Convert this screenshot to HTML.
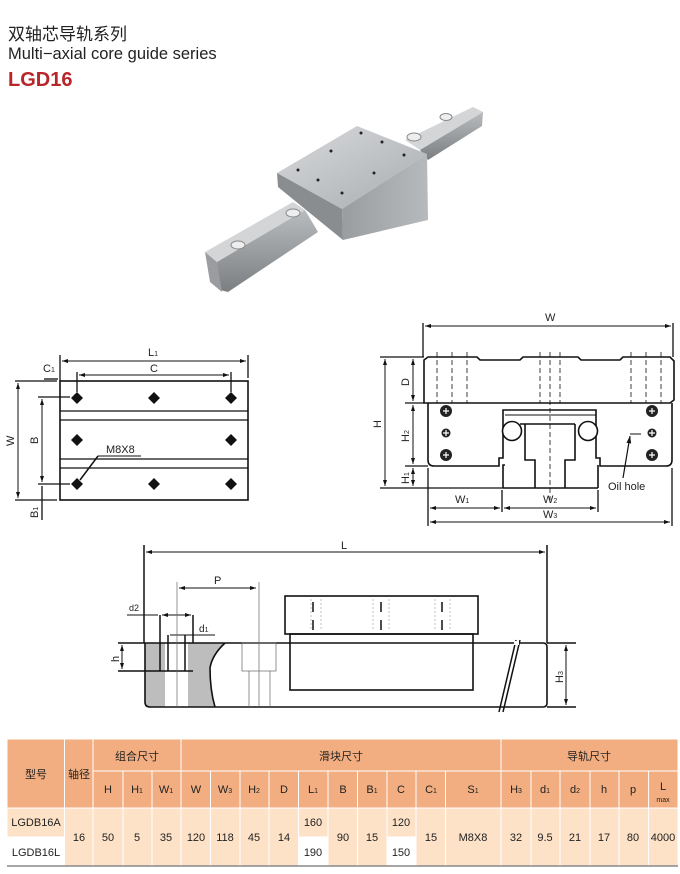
<!DOCTYPE html>
<html><head><meta charset="utf-8"><style>
html,body{margin:0;padding:0;background:#fff;}
svg{display:block;}
text{font-family:"Liberation Sans","Noto Sans CJK SC",sans-serif;fill:#222;}
.t{font-size:11px;}
</style></head><body>
<svg width="680" height="874" viewBox="0 0 680 874" xmlns="http://www.w3.org/2000/svg">
<defs>
<marker id="a" markerWidth="6" markerHeight="6" refX="6" refY="3" orient="auto-start-reverse"><path d="M0,1 L6,3 L0,5 Z" fill="#111"/></marker>
<linearGradient id="g1" x1="0" y1="0" x2="1" y2="1"><stop offset="0" stop-color="#d8dadc"/><stop offset="1" stop-color="#a9acaf"/></linearGradient>
<linearGradient id="g2" x1="0" y1="0" x2="0" y2="1"><stop offset="0" stop-color="#b9bcbf"/><stop offset="1" stop-color="#7c7f82"/></linearGradient>
<linearGradient id="g3" x1="0" y1="0" x2="1" y2="0"><stop offset="0" stop-color="#9a9da0"/><stop offset="1" stop-color="#b7babd"/></linearGradient>
</defs>
<!-- header -->
<text x="8" y="40" style="font-size:17px">双轴芯导轨系列</text>
<text x="8" y="59" style="font-size:16.5px">Multi−axial core guide series</text>
<text x="8" y="86" style="font-size:20px;font-weight:bold;fill:#b8262a">LGD16</text>

<!-- photo -->
<g stroke="none">
<polygon points="205,252 293,202 305,210 217,262" fill="#d3d5d7"/>
<polygon points="217,262 305,210 318,232 228,292 220,290" fill="url(#g2)"/>
<polygon points="205,252 217,262 222,292 210,282" fill="#9a9c9f"/>
<polygon points="405,140 473,107 483,112 420,150" fill="#d3d5d7"/>
<polygon points="420,150 483,112 482,126 428,160" fill="url(#g2)"/>
<polygon points="277,173 357,126 427,154 342,209" fill="url(#g1)"/>
<polygon points="342,209 427,154 428,220 343,240" fill="url(#g3)"/>
<polygon points="277,173 342,209 343,240 278,187" fill="#8a8d90"/>
<ellipse cx="238" cy="245" rx="7" ry="4" fill="#eee" stroke="#888"/>
<ellipse cx="293" cy="213" rx="7" ry="4" fill="#eee" stroke="#888"/>
<ellipse cx="414" cy="137" rx="7" ry="4" fill="#eee" stroke="#888"/>
<ellipse cx="446" cy="117" rx="6" ry="3.5" fill="#eee" stroke="#888"/>
<g fill="#222"><circle cx="298" cy="170" r="1.5"/><circle cx="331" cy="151" r="1.5"/><circle cx="361" cy="133" r="1.5"/><circle cx="318" cy="180" r="1.5"/><circle cx="382" cy="142" r="1.5"/><circle cx="342" cy="193" r="1.5"/><circle cx="374" cy="173" r="1.5"/><circle cx="404" cy="155" r="1.5"/></g>
</g>

<g fill="none" stroke="#111" stroke-width="1.3">
<!-- top view -->
<rect x="60" y="381" width="188" height="119" stroke-width="1.6"/>
<line x1="60" y1="411" x2="248" y2="411"/><line x1="60" y1="420" x2="248" y2="420"/>
<line x1="60" y1="459" x2="248" y2="459"/><line x1="60" y1="468" x2="248" y2="468"/>
<line x1="60" y1="355" x2="60" y2="381"/><line x1="248" y1="355" x2="248" y2="378"/>
<line x1="62" y1="361" x2="246" y2="361" marker-start="url(#a)" marker-end="url(#a)" stroke-width="1"/>
<line x1="77" y1="372" x2="77" y2="392"/><line x1="231" y1="372" x2="231" y2="392"/>
<line x1="79" y1="375" x2="229" y2="375" marker-start="url(#a)" marker-end="url(#a)" stroke-width="1"/>
<line x1="44" y1="379" x2="58" y2="379"/>
<line x1="15" y1="381" x2="57" y2="381"/><line x1="15" y1="500" x2="57" y2="500"/>
<line x1="18" y1="383" x2="18" y2="498" marker-start="url(#a)" marker-end="url(#a)" stroke-width="1"/>
<line x1="38" y1="397" x2="70" y2="397"/><line x1="38" y1="484" x2="70" y2="484"/>
<line x1="42" y1="399" x2="42" y2="482" marker-start="url(#a)" marker-end="url(#a)" stroke-width="1"/>
<line x1="42" y1="486" x2="42" y2="520"/>
<line x1="98" y1="456" x2="141" y2="456" stroke-width="1"/><line x1="98" y1="456" x2="80" y2="480" stroke-width="1.5"/>
</g>
<g fill="#111">
<path d="M77,392 l6,6 -6,6 -6,-6z"/><path d="M154,392 l6,6 -6,6 -6,-6z"/><path d="M231,392 l6,6 -6,6 -6,-6z"/>
<path d="M77,434 l6,6 -6,6 -6,-6z"/><path d="M231,434 l6,6 -6,6 -6,-6z"/>
<path d="M77,478 l6,6 -6,6 -6,-6z"/><path d="M154,478 l6,6 -6,6 -6,-6z"/><path d="M231,478 l6,6 -6,6 -6,-6z"/>
</g>
<text class="t" x="148" y="356">L<tspan style="font-size:7px">1</tspan></text>
<text class="t" x="150" y="372">C</text>
<text class="t" x="43" y="372">C<tspan style="font-size:7px">1</tspan></text>
<text class="t" x="106" y="453">M8X8</text>
<text class="t" transform="translate(14,446) rotate(-90)">W</text>
<text class="t" transform="translate(38,444) rotate(-90)">B</text>
<text class="t" transform="translate(38,518) rotate(-90)">B<tspan style="font-size:7px">1</tspan></text>

<!-- front view -->
<g fill="none" stroke="#111" stroke-width="1.3">
<line x1="423" y1="323" x2="423" y2="357"/><line x1="673" y1="323" x2="673" y2="357"/>
<line x1="425" y1="326" x2="671" y2="326" marker-start="url(#a)" marker-end="url(#a)" stroke-width="1"/>
<path d="M424,403 L424,360 L428,357 L477,357 L480,360 L520,360 L523,357 L578,357 L581,360 L620,360 L623,357 L670,357 L674,361 L674,400 L670,403 Z" stroke-width="1.6"/>
<path d="M428,403 L428,460 Q428,466 434,466 L499,466 L499,458 L503,458 L503,410 L596,410 L596,458 L600,458 L600,466 L666,466 Q672,466 672,460 L672,403" stroke-width="1.6"/>
<path d="M503,488 L503,465 L505,465 M598,488 L598,465" stroke-width="1.6"/>
<path d="M503,488 L598,488" stroke-width="1.6"/>
<path d="M520,424 L575,424 M525,424 L525,460 L535,460 L535,488 M575,424 L575,460 L565,460 L565,488" stroke-width="1.6"/>
<line x1="505" y1="415" x2="596" y2="415" stroke-width="1"/>
<circle cx="512" cy="431" r="9.5" fill="#fff" stroke-width="1.6"/>
<circle cx="588" cy="431" r="9.5" fill="#fff" stroke-width="1.6"/>
<g stroke-dasharray="5,3" stroke-width="0.8">
<line x1="437" y1="352" x2="437" y2="403"/><line x1="452" y1="352" x2="452" y2="403"/><line x1="467" y1="352" x2="467" y2="403"/>
<line x1="540" y1="352" x2="540" y2="403"/><line x1="550" y1="352" x2="550" y2="500"/><line x1="560" y1="352" x2="560" y2="403"/>
<line x1="631" y1="352" x2="631" y2="403"/><line x1="646" y1="352" x2="646" y2="403"/><line x1="661" y1="352" x2="661" y2="403"/>
</g>
<line x1="380" y1="357" x2="424" y2="357"/><line x1="380" y1="488" x2="503" y2="488"/>
<line x1="405" y1="403" x2="424" y2="403"/><line x1="405" y1="466" x2="428" y2="466"/>
<line x1="385" y1="359" x2="385" y2="486" marker-start="url(#a)" marker-end="url(#a)" stroke-width="1"/>
<line x1="413" y1="359" x2="413" y2="401" marker-start="url(#a)" marker-end="url(#a)" stroke-width="1"/>
<line x1="413" y1="405" x2="413" y2="464" marker-start="url(#a)" marker-end="url(#a)" stroke-width="1"/>
<line x1="413" y1="468" x2="413" y2="486" marker-start="url(#a)" marker-end="url(#a)" stroke-width="1"/>
<line x1="428" y1="468" x2="428" y2="526"/><line x1="672" y1="468" x2="672" y2="526"/>
<line x1="502" y1="490" x2="502" y2="512"/><line x1="598" y1="490" x2="598" y2="512"/>
<line x1="430" y1="508" x2="500" y2="508" marker-start="url(#a)" marker-end="url(#a)" stroke-width="1"/>
<line x1="504" y1="508" x2="596" y2="508" marker-start="url(#a)" marker-end="url(#a)" stroke-width="1"/>
<line x1="430" y1="522" x2="670" y2="522" marker-start="url(#a)" marker-end="url(#a)" stroke-width="1"/>
<path d="M623,478 L630,436" stroke-width="1.2" marker-end="url(#a)"/><line x1="630" y1="434" x2="641" y2="434" stroke-width="1"/>
</g>
<g fill="#222"><circle cx="446" cy="411" r="6"/><circle cx="446" cy="433" r="4.5"/><circle cx="446" cy="455" r="6"/>
<circle cx="652" cy="411" r="6"/><circle cx="652" cy="433" r="4.5"/><circle cx="652" cy="455" r="6"/></g>
<g stroke="#fff" stroke-width="1.2"><path d="M443,411h6M446,408v6M443,433h6M446,430v6M443,455h6M446,452v6M649,411h6M652,408v6M649,433h6M652,430v6M649,455h6M652,452v6"/></g>
<text class="t" x="545" y="321">W</text>
<text class="t" x="608" y="490">Oil hole</text>
<text class="t" x="455" y="503">W<tspan style="font-size:7px">1</tspan></text>
<text class="t" x="543" y="503">W<tspan style="font-size:7px">2</tspan></text>
<text class="t" x="543" y="518">W<tspan style="font-size:7px">3</tspan></text>
<text class="t" transform="translate(381,428) rotate(-90)">H</text>
<text class="t" transform="translate(409,386) rotate(-90)">D</text>
<text class="t" transform="translate(409,442) rotate(-90)">H<tspan style="font-size:7px">2</tspan></text>
<text class="t" transform="translate(409,484) rotate(-90)">H<tspan style="font-size:7px">1</tspan></text>

<!-- side view -->
<path d="M145,643 L225,643 Q212,655 210,668 Q210,690 215,707 L150,707 Q145,707 145,702 Z" fill="#bdbdbd"/>
<rect x="165" y="643" width="23" height="64" fill="#fff"/>
<g fill="none" stroke="#111" stroke-width="1.5">
<path d="M145,643 L543,643 Q547,643 547,647 L547,703 Q547,707 543,707 L150,707 Q145,707 145,702 Z" stroke-width="1.6"/>
<path d="M225,643 Q212,655 210,668 Q210,690 215,707" stroke-width="1.6"/>
<rect x="285" y="596" width="193" height="38" stroke-width="1.6"/>
<rect x="290" y="634" width="183" height="56" stroke-width="1.6"/>
<path d="M313,602v10M313,620v10M381,602v10M381,620v10M442,602v10M442,620v10"/>
<path d="M516,640 L499,712 M520,640 L503,712" stroke="#111"/>
<path d="M160,615 L160,671 M193,615 L193,643 M168,635 L168,671 M185,635 L185,671 M160,671 L193,671"/>
<line x1="144" y1="545" x2="144" y2="643"/><line x1="547" y1="545" x2="547" y2="643"/>
<line x1="146" y1="552" x2="545" y2="552" marker-start="url(#a)" marker-end="url(#a)" stroke-width="1"/>
<line x1="127" y1="615" x2="158" y2="615" stroke-width="1"/>
<line x1="162" y1="615" x2="191" y2="615" marker-start="url(#a)" marker-end="url(#a)" stroke-width="1"/>
<line x1="170" y1="635" x2="215" y2="635" stroke-width="1"/>
<line x1="118" y1="643" x2="145" y2="643"/><line x1="118" y1="671" x2="160" y2="671"/>
<line x1="122" y1="645" x2="122" y2="669" marker-start="url(#a)" marker-end="url(#a)" stroke-width="1"/>
<line x1="547" y1="643" x2="576" y2="643"/><line x1="547" y1="707" x2="576" y2="707"/>
<line x1="566" y1="645" x2="566" y2="705" marker-start="url(#a)" marker-end="url(#a)" stroke-width="1"/>
<line x1="179" y1="588" x2="256" y2="588" marker-start="url(#a)" marker-end="url(#a)" stroke-width="1"/>
</g>
<g fill="none" stroke="#666" stroke-width="0.7">
<line x1="177" y1="582" x2="177" y2="707"/><line x1="259" y1="582" x2="259" y2="707"/>
<rect x="242" y="643" width="34" height="28"/><path d="M249,671v36M270,671v36"/>
<path d="M311,599v32M321,599v32M373,599v32M389,599v32M435,599v32M450,599v32" stroke-dasharray="2,2" stroke="#aaa"/>
</g>
<rect x="514" y="641" width="5" height="4" fill="#fff"/>
<text class="t" x="341" y="549">L</text>
<text class="t" x="214" y="584">P</text>
<text x="129" y="611" style="font-size:9px">d2</text>
<text x="199" y="632" style="font-size:10px">d<tspan style="font-size:7px">1</tspan></text>
<text class="t" transform="translate(119,662) rotate(-90)">h</text>
<text class="t" transform="translate(563,683) rotate(-90)">H<tspan style="font-size:7px">3</tspan></text>

<!-- table -->
<g stroke="#fff" stroke-width="1">
<rect x="7" y="739" width="671" height="69" fill="#f2ae80"/>
<rect x="7" y="808" width="671" height="58" fill="#fde2c8"/>
<rect x="7" y="837" width="57" height="29" fill="#fff"/>
<rect x="298.5" y="837" width="29.5" height="29" fill="#fff"/>
<rect x="387" y="837" width="29" height="29" fill="#fff"/>
<path d="M64.5,739V866M93,739V866M93,771H678M123,771V866M152,771V866M181,739V866M210.5,771V866M240,771V866M269,771V866M298.5,771V866M328,771V866M357.5,771V866M387,771V866M416,771V866M445.5,771V866M501,739V866M531,771V866M560,771V866M590,771V866M619,771V866M648.6,771V866M7,808H678M7,837H64.5M298.5,837H328M387,837H416"/>
</g>
<line x1="7" y1="866" x2="678" y2="866" stroke="#888" stroke-width="1.5"/>
<g style="font-size:11px" text-anchor="middle">
<text x="36" y="778">型号</text><text x="79" y="778">轴径</text>
<text x="137" y="760">组合尺寸</text><text x="341" y="760">滑块尺寸</text><text x="589" y="760">导轨尺寸</text>
<text x="108" y="793">H</text><text x="137" y="793">H<tspan style="font-size:7px">1</tspan></text><text x="166" y="793">W<tspan style="font-size:7px">1</tspan></text>
<text x="196" y="793">W</text><text x="225" y="793">W<tspan style="font-size:7px">3</tspan></text><text x="254" y="793">H<tspan style="font-size:7px">2</tspan></text><text x="284" y="793">D</text>
<text x="313" y="793">L<tspan style="font-size:7px">1</tspan></text><text x="343" y="793">B</text><text x="372" y="793">B<tspan style="font-size:7px">1</tspan></text><text x="401" y="793">C</text><text x="431" y="793">C<tspan style="font-size:7px">1</tspan></text>
<text x="473" y="793">S<tspan style="font-size:7px">1</tspan></text><text x="516" y="793">H<tspan style="font-size:7px">3</tspan></text><text x="545" y="793">d<tspan style="font-size:7px">1</tspan></text><text x="575" y="793">d<tspan style="font-size:7px">2</tspan></text>
<text x="604" y="793">h</text><text x="633" y="793">p</text><text x="663" y="790">L</text><text x="663" y="802" style="font-size:7px">max</text>
<text x="36" y="826">LGDB16A</text><text x="36" y="856">LGDB16L</text>
<text x="79" y="841">16</text><text x="108" y="841">50</text><text x="137" y="841">5</text><text x="166" y="841">35</text>
<text x="196" y="841">120</text><text x="225" y="841">118</text><text x="254" y="841">45</text><text x="284" y="841">14</text>
<text x="313" y="826">160</text><text x="313" y="856">190</text><text x="343" y="841">90</text><text x="372" y="841">15</text>
<text x="401" y="826">120</text><text x="401" y="856">150</text><text x="431" y="841">15</text><text x="473" y="841">M8X8</text>
<text x="516" y="841">32</text><text x="545" y="841">9.5</text><text x="575" y="841">21</text><text x="604" y="841">17</text><text x="633" y="841">80</text><text x="663" y="841">4000</text>
</g>
</svg>
</body></html>
